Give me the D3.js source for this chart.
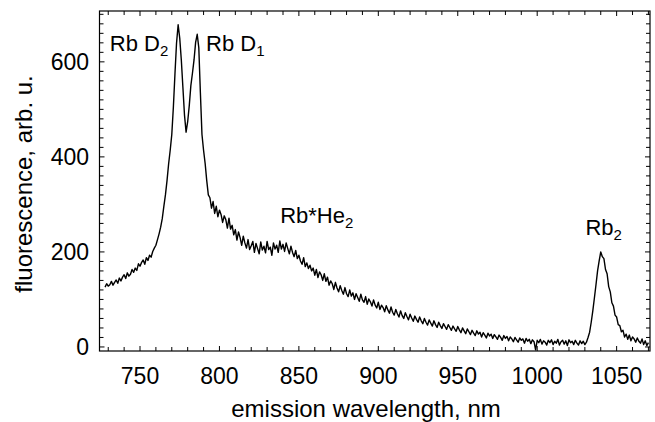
<!DOCTYPE html>
<html>
  <meta charset="utf-8" />
  <head>
    <script src="https://cdnjs.cloudflare.com/ajax/libs/d3/7.8.5/d3.min.js"></script>
    <style>
      body { margin: 0; background: #fff; }
      text { font-family: "Liberation Sans", Arial, sans-serif; fill: #000; }
    </style>
  </head>
  <body>
    <script>
    // spectrum sampled every 1 nm starting at 728 nm
    const wavelengthStart = 728;
    const wavelengthStep = 1;
    const fluorescence = [
      126, 133, 128, 131, 138, 130, 136, 141, 134, 145,   // 728
      139, 147, 152, 144, 156, 149, 153, 163, 157, 166,   // 738
      161, 175, 170, 178, 183, 174, 188, 182, 193, 189,   // 748
      201, 208, 214, 226, 238, 252, 270, 296, 320, 350,   // 758
      385, 414, 447, 505, 575, 640, 678, 650, 604, 546,   // 768
      488, 452, 474, 508, 550, 576, 604, 641, 658, 630,   // 778
      535, 447, 414, 386, 350, 320, 314, 292, 306, 281,   // 788
      296, 274, 288, 279, 262, 276, 268, 250, 271, 248,   // 798
      256, 236, 247, 225, 242, 230, 214, 233, 219, 208,   // 808
      226, 205, 213, 222, 199, 218, 207, 196, 221, 204,   // 818
      212, 198, 222, 205, 210, 193, 219, 206, 214, 199,   // 828
      223, 206, 216, 201, 219, 207, 196, 212, 199, 190,   // 838
      203, 186, 193, 181, 174, 188, 169, 177, 165, 172,   // 848
      160, 166, 151, 163, 146, 158, 152, 140, 154, 138,   // 858
      147, 130, 139, 133, 121, 136, 124, 116, 129, 119,   // 868
      111, 125, 112, 106, 120, 107, 114, 100, 112, 104,   // 878
      96, 111, 99, 94, 106, 90, 101, 95, 86, 99,          // 888
      88, 82, 94, 79, 88, 83, 74, 87, 78, 71,             // 898
      84, 73, 67, 79, 70, 63, 76, 66, 60, 72,             // 908
      64, 57, 69, 61, 54, 65, 58, 52, 63, 55,             // 918
      49, 60, 52, 46, 57, 50, 44, 55, 47, 41,             // 928
      52, 45, 39, 49, 43, 37, 47, 41, 35, 44,             // 938
      38, 33, 43, 36, 30, 40, 34, 28, 38, 32,             // 948
      26, 35, 29, 24, 34, 27, 31, 21, 30, 25,             // 958
      19, 29, 23, 27, 18, 26, 21, 16, 25, 20,             // 968
      14, 24, 18, 22, 13, 21, 17, 11, 20, 15,             // 978
      10, 19, 14, 17, 8, 18, 12, 16, 7, 15,               // 988
      11, -6, 14, 9, 16, 6, 13, 10, 4, 14,                // 998
      9, 15, 5, 12, 8, 16, 4, 11, 14, 6,                  // 1008
      13, 3, 15, 9, 12, 5, 14, 8, 4, 13,                  // 1018
      7, 12, 5, 10, 20, 31, 52, 76, 103, 131,             // 1028
      160, 181, 200, 190, 186, 163, 154, 127, 116, 93,    // 1038
      86, 67, 63, 47, 45, 32, 35, 21, 27, 16,             // 1048
      25, 13, 21, 17, 10, 19, 12, 8, 17, 5,               // 1058
      13, 3, 9                                            // 1068
    ];

    const xTicks = [750, 800, 850, 900, 950, 1000, 1050];
    const yTicks = [0, 200, 400, 600];
    const xDomain = [724.5, 1071];
    const yDomain = [-8.5, 707];

    const peakNames = ["Rb D", "Rb D", "Rb*He", "Rb"];
    const peakSubs = ["2", "1", "2", "2"];
    const peakPos = [[731, 623], [791.6, 623], [838.2, 261], [1030.4, 236]];

    const width = 655, height = 422;
    const plot = { left: 99.5, right: 650, top: 11, bottom: 351 };

    const svg = d3.select("body").append("svg")
        .attr("width", width)
        .attr("height", height);

    const x = d3.scaleLinear().domain(xDomain).range([plot.left, plot.right]);
    const y = d3.scaleLinear().domain(yDomain).range([plot.bottom, plot.top]);

    const pts = fluorescence.map((v, i) => [wavelengthStart + i * wavelengthStep, v]);

    svg.append("path")
        .datum(pts)
        .attr("fill", "none")
        .attr("stroke", "#000")
        .attr("stroke-width", 1.4)
        .attr("stroke-linejoin", "round")
        .attr("d", d3.line().x(d => x(d[0])).y(d => y(d[1])));

    // frame
    svg.append("rect")
        .attr("x", plot.left).attr("y", plot.top)
        .attr("width", plot.right - plot.left)
        .attr("height", plot.bottom - plot.top)
        .attr("fill", "none").attr("stroke", "#000").attr("stroke-width", 1.2);

    // inward ticks on every side
    const xMinor = d3.range(730, 1071, 10);
    const yMinor = d3.range(0, 701, 20);
    const tickLen = v => (v % 50 === 0 ? 5 : 4);
    const yTickLen = v => (v % 200 === 0 ? 5 : 4);

    const tk = svg.append("g").attr("stroke", "#000").attr("stroke-width", 1);
    xMinor.forEach(v => {
      tk.append("line").attr("x1", x(v)).attr("x2", x(v))
        .attr("y1", plot.bottom).attr("y2", plot.bottom - tickLen(v));
      tk.append("line").attr("x1", x(v)).attr("x2", x(v))
        .attr("y1", plot.top).attr("y2", plot.top + tickLen(v));
    });
    yMinor.forEach(v => {
      tk.append("line").attr("y1", y(v)).attr("y2", y(v))
        .attr("x1", plot.left).attr("x2", plot.left + yTickLen(v));
      tk.append("line").attr("y1", y(v)).attr("y2", y(v))
        .attr("x1", plot.right).attr("x2", plot.right - yTickLen(v));
    });

    // tick labels
    svg.append("g").selectAll("text").data(xTicks).join("text")
        .attr("x", d => x(d)).attr("y", 384)
        .attr("text-anchor", "middle")
        .attr("font-size", 23)
        .text(d => d);

    svg.append("g").selectAll("text").data(yTicks).join("text")
        .attr("x", 89).attr("y", d => y(d) + 8)
        .attr("text-anchor", "end")
        .attr("font-size", 23)
        .text(d => d);

    // axis titles
    svg.append("text")
        .attr("x", 366).attr("y", 417)
        .attr("text-anchor", "middle")
        .attr("font-size", 24)
        .text("emission wavelength, nm");

    svg.append("text")
        .attr("transform", "translate(32,184) rotate(-90)")
        .attr("text-anchor", "middle")
        .attr("font-size", 24)
        .text("fluorescence, arb. u.");

    // peak labels
    peakNames.forEach((name, i) => {
      const t = svg.append("text")
          .attr("x", x(peakPos[i][0])).attr("y", y(peakPos[i][1]))
          .attr("font-size", 22);
      t.append("tspan").text(name);
      t.append("tspan").attr("dy", 5).attr("font-size", 15).text(peakSubs[i]);
    });
    </script>
  </body>
</html>
